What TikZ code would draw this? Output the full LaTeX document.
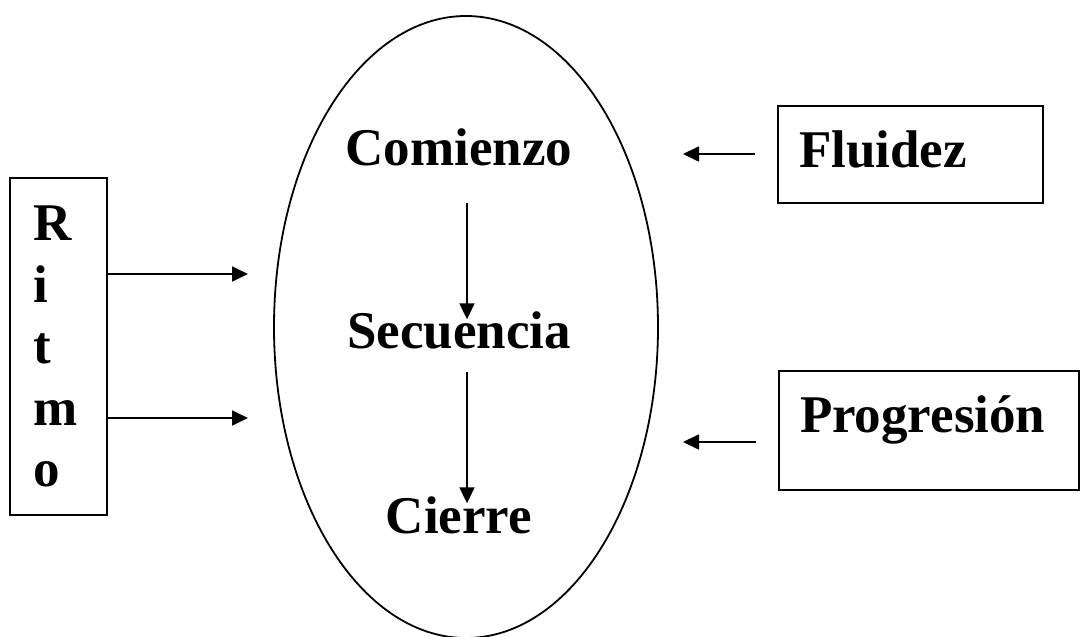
\documentclass[tikz,border=0pt]{standalone}
\usepackage{fontspec}
\setmainfont{Liberation Serif}
\usepackage{tikz}
\usetikzlibrary{positioning,shapes.geometric,arrows.meta}

\begin{document}
\begin{tikzpicture}[x=1pt, y=-1pt, line width=1.8pt,
tri/.style={-{Triangle[length=16pt,width=15pt]}, line width=1.8pt},
boxnode/.style={rectangle, draw, inner sep=0pt, align=left},
word/.style={inner sep=0pt, anchor=base}]
\tikzstyle{every node}=[font=\bfseries\fontsize{53}{61.5}\selectfont]
\useasboundingbox (0,0) rectangle (1080,637);
% ellipse and its three stages
\node[ellipse, draw, minimum width=384pt, minimum height=622pt, inner sep=0pt] (ciclo) at (466,327) {};
\node[word] (com) at (459,165) {Comienzo};
\node[word] (sec) at (459,348) {Secuencia};
\node[word] (cie) at (459,533) {Cierre};
\draw[tri, shorten <=37pt, shorten >=-9pt] ([xshift=8pt]com.south) -- ([xshift=8pt]sec.north);
\draw[tri, shorten <=22pt, shorten >=-8pt] ([xshift=8pt]sec.south) -- ([xshift=8pt]cie.north);
% side boxes
\node[boxnode, minimum width=97pt, minimum height=337pt, text width=51pt] (rtm) at (58.5,346.5) {R\\i\\t\\m\\o};
\node[boxnode, text width=223pt, inner xsep=21pt, text height=61pt, text depth=36pt] (flu) at (910.5,154.5) {Fluidez};
\node[boxnode, text width=258pt, inner xsep=21pt, text height=61pt, text depth=58pt] (prog) at (929,430.5) {Progresión};
\coordinate (r1) at (248,274);
\coordinate (r2) at (248,418);
\coordinate (f1) at (683,154);
\coordinate (p1) at (683,442);
\draw[tri] (rtm.east |- r1) -- (r1);
\draw[tri] (rtm.east |- r2) -- (r2);
\draw[tri, shorten <=22pt] (flu.west |- f1) -- (f1);
\draw[tri, shorten <=22pt] (prog.west |- p1) -- (p1);
\end{tikzpicture}
\end{document}
